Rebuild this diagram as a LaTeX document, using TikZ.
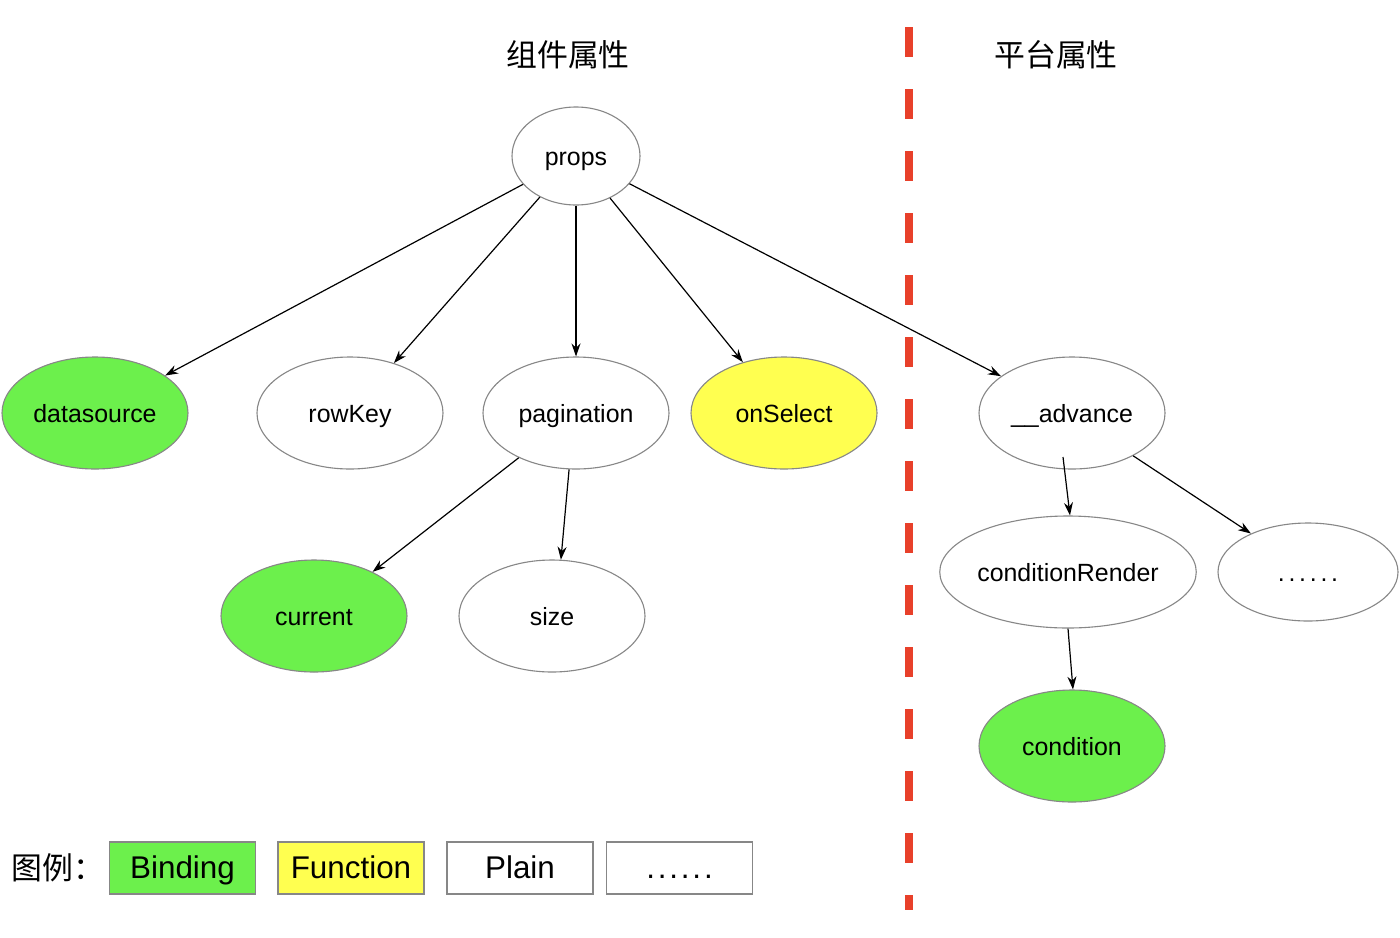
\documentclass[tikz,border=0pt]{standalone}
\usepackage{fontspec}
\setmainfont{Liberation Sans}
\newfontfamily\cjk{Noto Sans CJK SC}
\usetikzlibrary{shapes.geometric,arrows.meta}
\definecolor{bindgreen}{RGB}{108,240,76}
\definecolor{funcyellow}{RGB}{255,255,80}
\definecolor{bordergray}{RGB}{135,135,135}
\definecolor{dashred}{RGB}{232,64,42}
\newcommand\mysixdots[1]{.\kern#1.\kern#1.\kern#1.\kern#1.\kern#1.}
\tikzset{
  el/.style={ellipse, draw=bordergray, line width=1.1bp, inner sep=0pt, minimum width=186bp, minimum height=112bp, font=\fontsize{25}{28}\selectfont, text height=21bp, text depth=2bp},
  arr/.style={-{Stealth[length=13bp,width=9bp]}, line width=1.2bp, black},
  legbox/.style={rectangle, draw=bordergray, line width=1.1bp, minimum width=146bp, minimum height=52bp, inner sep=0pt, font=\fontsize{31.5}{34}\selectfont, text height=24.7bp, text depth=4.3bp},
  title/.style={font=\cjk\fontsize{31}{34}\selectfont}
}
\begin{document}
\begin{tikzpicture}[x=1bp,y=-1bp]
\useasboundingbox[fill=white] (0,0) rectangle (1400,937);
% divider
\draw[dashred, line width=8bp, dash pattern=on 30bp off 32bp] (909,27) -- (909,910);
% titles
\node[title] (t1) at (568,55) {组件属性};
\node[title] (t2) at (1056,55) {平台属性};
% nodes
\node[el, minimum width=128bp, minimum height=98bp] (props) at (576,156) {props};
\node[el, fill=bindgreen] (ds) at (95,413) {datasource};
\node[el] (rk) at (350,413) {rowKey};
\node[el] (pg) at (576,413) {pagination};
\node[el, fill=funcyellow] (os) at (784,413) {onSelect};
\node[el] (adv) at (1072,413) {\_\_advance};
\node[el, fill=bindgreen] (cur) at (314,616) {current};
\node[el] (size) at (552,616) {size};
\node[el, minimum width=252bp] (cr) at (1068,572) {conditionRender};
\node[el, minimum width=180bp, minimum height=98bp] (dots) at (1308,572) {\mysixdots{0.15em}};
\node[el, fill=bindgreen] (cond) at (1072,746) {condition};
\coordinate (advout) at (1063,457);
% edges
\draw[arr] (props) -- (ds);
\draw[arr] (props) -- (rk);
\draw[arr] (props) -- (pg);
\draw[arr] (props) -- (os);
\draw[arr] (props) -- (adv);
\draw[arr] (pg.-142) -- (cur.37);
\draw[arr] (pg.-97) -- (size.81);
\draw[arr] (advout) -- (cr.88);
\draw[arr] (adv.-35) -- (dots.146);
\draw[arr] (cr.-90) -- (cond.89);
% legend
\node[title, anchor=west] (leg) at (8,868) {图例：};
\node[legbox, fill=bindgreen] (lb1) at (182.5,868) {Binding};
\node[legbox, fill=funcyellow] (lb2) at (351,868) {Function};
\node[legbox] (lb3) at (520,868) {Plain};
\node[legbox] (lb4) at (679.5,868) {\mysixdots{0.09em}};
\end{tikzpicture}
\end{document}
